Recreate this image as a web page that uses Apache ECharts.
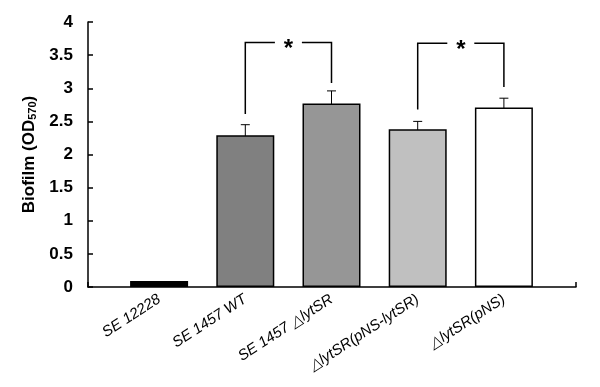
<!DOCTYPE html>
<html>
<head>
<meta charset="utf-8" />
<title>Biofilm</title>
<script src="https://cdn.jsdelivr.net/npm/echarts@6/dist/echarts.min.js"></script>
</head>
<body style="margin:0; background:#fff">
<div id="chart" style="width:600px; height:387px"></div>
<script type="text/javascript">
// strains on the x axis
var strains = ['SE 12228', 'SE 1457 WT', 'SE 1457 \u25B3lytSR', '\u25B3lytSR(pNS-lytSR)', '\u25B3lytSR(pNS)'];
// mean OD570 and error (sd)
var od570 = [0.09, 2.29, 2.77, 2.38, 2.71];
var errs = [0, 0.16, 0.19, 0.12, 0.14];
var barColors = ['#000000', '#808080', '#969696', '#c0c0c0', '#ffffff'];
// significance brackets: [from, to, left foot, right foot, top]
var brackets = [
  [1, 2, 2.61, 3.08, 3.69],
  [3, 4, 2.68, 3.02, 3.68]
];
var yTicks = { min: 0, max: 4, interval: 0.5 };

var chart = echarts.init(document.getElementById('chart'));

var errData = [];
for (var i = 0; i < od570.length; i++) {
  if (errs[i] > 0) errData.push([i, od570[i] + errs[i], od570[i] - errs[i]]);
}
var barData = od570.map(function (v, i) {
  return { value: v, itemStyle: { color: barColors[i] } };
});

var option = {
  animation: false,
  grid: [
    { left: 88, right: 24, top: 22, bottom: 100, outerBoundsMode: 'none', containLabel: false },
    { left: 116, right: 53, top: 22, bottom: 100, outerBoundsMode: 'none', containLabel: false }
  ],
  xAxis: [
    {
      gridIndex: 0, type: 'value', min: 0, max: 1, interval: 1,
      axisLine: { lineStyle: { color: '#000', width: 1.5 } },
      axisTick: { inside: true, length: 5, lineStyle: { color: '#000', width: 1.5 } },
      axisLabel: { show: false },
      splitLine: { show: false }
    },
    {
      gridIndex: 1, type: 'category', data: strains,
      axisLine: { show: false },
      axisTick: { show: false },
      axisLabel: {
        interval: 0, rotate: 33, margin: 11, hideOverlap: false,
        fontFamily: 'Liberation Sans, Arial, sans-serif',
        fontSize: 15, fontStyle: 'italic', color: '#000'
      }
    }
  ],
  yAxis: [
    {
      gridIndex: 0, type: 'value', min: yTicks.min, max: yTicks.max, interval: yTicks.interval,
      name: '{b|Biofilm (OD}{s|570}{b|)}',
      nameLocation: 'middle', nameGap: 50, nameRotate: 90,
      nameTextStyle: {
        rich: {
          b: { fontFamily: 'Liberation Sans, Arial, sans-serif', fontSize: 17, fontWeight: 'bold', color: '#000' },
          s: { fontFamily: 'Liberation Sans, Arial, sans-serif', fontSize: 11, fontWeight: 'bold', color: '#000', verticalAlign: 'bottom', padding: [6, 0, 0, 0] }
        }
      },
      axisLine: { show: true, lineStyle: { color: '#000', width: 1.5 } },
      axisTick: { show: true, inside: true, length: 5, lineStyle: { color: '#000', width: 1.5 } },
      axisLabel: {
        margin: 15, fontFamily: 'Liberation Sans, Arial, sans-serif',
        fontSize: 17, fontWeight: 'bold', color: '#000'
      },
      splitLine: { show: false }
    },
    { gridIndex: 1, type: 'value', min: yTicks.min, max: yTicks.max, show: false }
  ],
  series: [
    {
      type: 'bar', xAxisIndex: 1, yAxisIndex: 1,
      barWidth: 58,
      itemStyle: { borderColor: '#000', borderWidth: 1.5 },
      data: barData
    },
    {
      type: 'custom', xAxisIndex: 1, yAxisIndex: 1,
      data: errData,
      renderItem: function (params, api) {
        var x = api.value(0);
        var hi = api.coord([x, api.value(1)]);
        var lo = api.coord([x, api.value(2)]);
        var w = 4.5;
        var st = { stroke: '#000', lineWidth: 1 };
        return {
          type: 'group', children: [
            { type: 'line', shape: { x1: hi[0], y1: hi[1], x2: lo[0], y2: lo[1] }, style: st },
            { type: 'line', shape: { x1: hi[0] - w, y1: hi[1], x2: hi[0] + w, y2: hi[1] }, style: st },
            { type: 'line', shape: { x1: lo[0] - w, y1: lo[1], x2: lo[0] + w, y2: lo[1] }, style: st }
          ]
        };
      }
    },
    {
      type: 'custom', xAxisIndex: 1, yAxisIndex: 1,
      data: brackets,
      renderItem: function (params, api) {
        var a = api.value(0), b = api.value(1), top = api.value(4);
        var footL = api.coord([a, api.value(2)]);
        var topL = api.coord([a, top]);
        var topR = api.coord([b, top]);
        var footR = api.coord([b, api.value(3)]);
        var mid = (topL[0] + topR[0]) / 2;
        var gap = 13.5;
        var st = { stroke: '#000', lineWidth: 1.5, fill: null };
        return {
          type: 'group', children: [
            { type: 'polyline', shape: { points: [footL, topL, [mid - gap, topL[1]]] }, style: st },
            { type: 'polyline', shape: { points: [[mid + gap, topR[1]], topR, footR] }, style: st },
            {
              type: 'text', x: mid, y: topL[1] + 7,
              style: {
                text: '*', fontFamily: 'Liberation Sans, Arial, sans-serif', fontSize: 24, fontWeight: 'bold',
                fill: '#000', align: 'center', verticalAlign: 'middle'
              }
            }
          ]
        };
      }
    }
  ]
};
chart.setOption(option);
</script>
</body>
</html>
